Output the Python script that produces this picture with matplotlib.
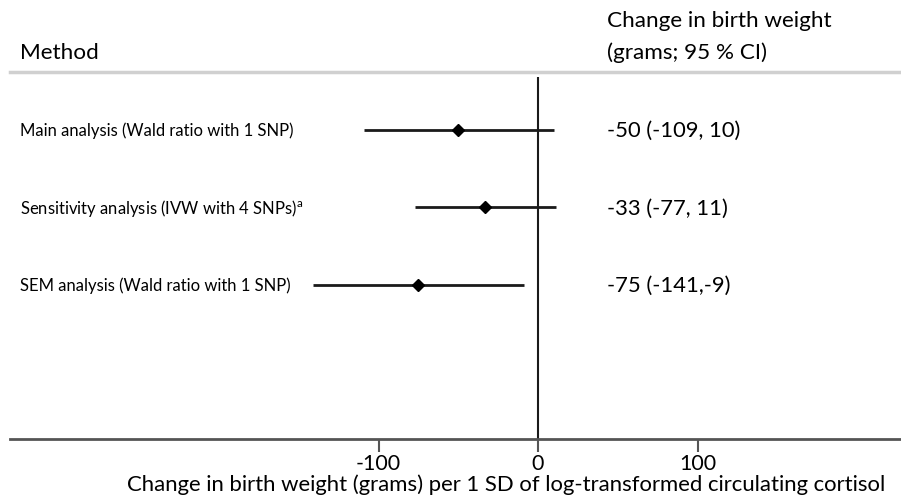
import matplotlib
matplotlib.use("Agg")
import matplotlib.pyplot as plt
import matplotlib.transforms as mtransforms

methods = ["Main analysis (Wald ratio with 1 SNP)",
           "Sensitivity analysis (IVW with 4 SNPs)$^{\\mathregular{a}}$",
           "SEM analysis (Wald ratio with 1 SNP)"]
estimates = [-50, -33, -75]
lower = [-109, -77, -141]
upper = [10, 11, -9]
value_labels = ["-50 (-109, 10)", "-33 (-77, 11)", "-75 (-141,-9)"]
xticks = [-100, 0, 100]
xtick_labels = ["-100", "0", "100"]

plt.rcParams['font.family'] = ['Lato', 'DejaVu Sans']

W, H = 901, 502
fig = plt.figure(figsize=(W / 100, H / 100), dpi=100)
ax_left, ax_right = 10 / W, 1.0
ax_bottom, ax_top = 1 - 440 / H, 1 - 78 / H
ax = fig.add_axes([ax_left, ax_bottom, ax_right - ax_left, ax_top - ax_bottom])

# x scale: 0 at px 538, 1 unit = 1.595 px
x0_px, scale = 538, 1.595
ax.set_xlim((10 - x0_px) / scale, (W - x0_px) / scale)
ax.set_ylim(4.99, 0.316)

rows = list(range(1, len(methods) + 1))
for y, est, lo, hi in zip(rows, estimates, lower, upper):
    ax.plot([lo, hi], [y, y], color="#1a1a1a", lw=2.0, solid_capstyle="butt", zorder=2)
    ax.plot(est, y, marker="D", color="black", ms=6, zorder=3)

ax.axvline(0, color="#1a1a1a", lw=1.5, zorder=1)

for s in ["top", "right", "left"]:
    ax.spines[s].set_visible(False)
ax.spines["bottom"].set_color("#555555")
ax.spines["bottom"].set_linewidth(2)
ax.set_yticks([])
ax.set_xticks(xticks)
ax.set_xticklabels(xtick_labels, fontsize=15.5)
ax.tick_params(axis="x", direction="out", length=9, width=1.5, color="#555555", pad=1)

blend = mtransforms.blended_transform_factory(fig.transFigure, ax.transData)
for y, m, v in zip(rows, methods, value_labels):
    ax.text(20 / W, y, m, transform=blend, fontsize=12, va="center", ha="left")
    ax.text(607 / W, y, v, transform=blend, fontsize=15.8, va="center", ha="left")

# header
fig.text(20 / W, 1 - 53 / H, "Method", fontsize=16.2, va="center", ha="left")
fig.text(607 / W, 1 - 21 / H, "Change in birth weight", fontsize=16.2, va="center", ha="left")
fig.text(607 / W, 1 - 53 / H, "(grams; 95 % CI)", fontsize=16.2, va="center", ha="left")
fig.add_artist(plt.Line2D([10 / W, 1.0], [1 - 73 / H, 1 - 73 / H], color="#d0d0d0", lw=2.5,
                          transform=fig.transFigure))

fig.text(506 / W, 1 - 485 / H,
         "Change in birth weight (grams) per 1 SD of log-transformed circulating cortisol",
         fontsize=15.9, va="center", ha="center")

fig.savefig("out.png", dpi=100)
